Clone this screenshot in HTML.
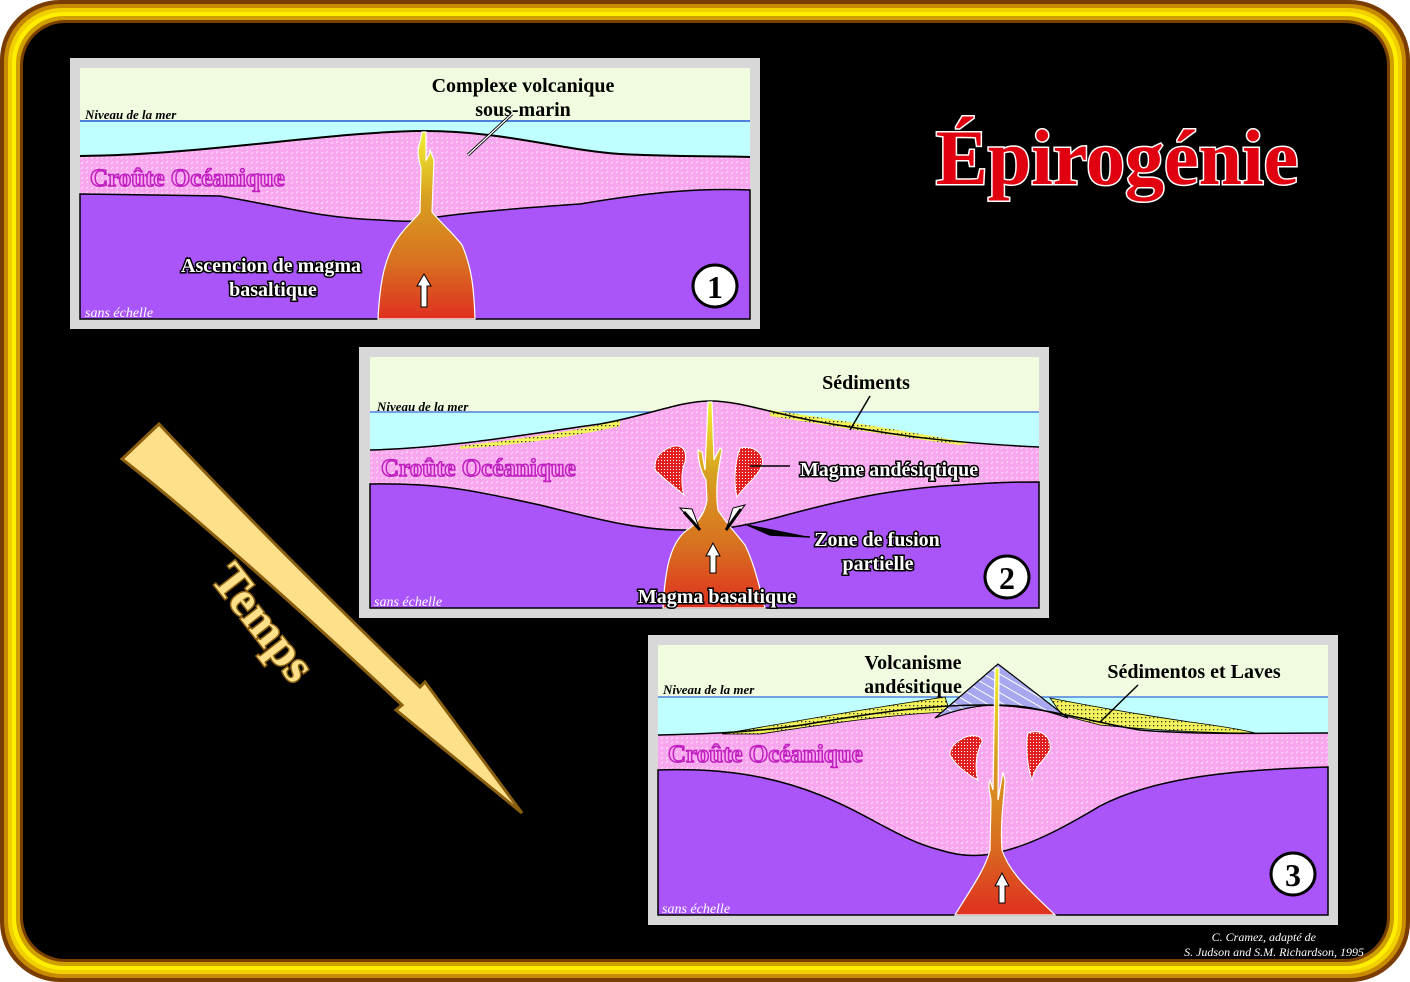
<!DOCTYPE html>
<html><head><meta charset="utf-8"><style>
html,body{margin:0;padding:0;background:#fff}
svg{display:block}
</style></head><body>
<svg width="1410" height="982" viewBox="0 0 1410 982" xmlns="http://www.w3.org/2000/svg">
<defs>
<pattern id="crust" width="10" height="10" patternUnits="userSpaceOnUse">
<rect width="10" height="10" fill="#f8a6ee"/>
<path d="M1 4 l2 -2 M6 9 l2 -2 M6 3 l2 -2 M1 9 l2-2" stroke="#fff" stroke-width="0.8" opacity="0.8"/>
</pattern>
<pattern id="sed" width="4" height="4" patternUnits="userSpaceOnUse">
<rect width="4" height="4" fill="#f2f25a"/><rect x="1" y="1" width="1.3" height="1.3" fill="#333"/>
</pattern>
<pattern id="red" width="3" height="3" patternUnits="userSpaceOnUse">
<rect width="3" height="3" fill="#e02020"/><rect x="1" y="1" width="1" height="1" fill="#fff"/>
</pattern>
<pattern id="cone" width="8" height="8" patternUnits="userSpaceOnUse" patternTransform="rotate(30)">
<rect width="8" height="8" fill="#a8a8f0"/><path d="M0 4 H8" stroke="#fff" stroke-width="1"/>
</pattern>
<linearGradient id="mag" x1="0" y1="0" x2="0" y2="1">
<stop offset="0" stop-color="#f0f030"/><stop offset="0.35" stop-color="#d8a020"/><stop offset="0.7" stop-color="#d87020"/><stop offset="1" stop-color="#e03020"/></linearGradient>
</defs>
<!-- frame -->
<rect x="0" y="0" width="1410" height="982" rx="60" fill="#7a3c00"/>
<rect x="4" y="4" width="1402" height="974" rx="57" fill="#c88a00"/>
<rect x="8" y="8" width="1394" height="966" rx="54" fill="#f0d000"/>
<rect x="12" y="12" width="1386" height="958" rx="51" fill="#ffee00"/>
<rect x="16" y="16" width="1378" height="950" rx="48" fill="#d0a000"/>
<rect x="20" y="20" width="1370" height="942" rx="45" fill="#7a4000"/>
<rect x="23" y="23" width="1364" height="936" rx="42" fill="#000"/>

<!-- Panel 1 -->
<rect x="70" y="58" width="690" height="271" fill="#d8d8d8"/>
<rect x="80" y="68" width="670" height="251" fill="#f0fbe0"/>
<rect x="80" y="121" width="670" height="198" fill="#c0ffff"/>
<path d="M80 156 C200 155 330 132 420 131 C500 130 560 150 620 154 C680 157 720 156 750 157 L750 319 L80 319Z" fill="url(#crust)"/>
<path d="M80 156 C200 155 330 132 420 131 C500 130 560 150 620 154 C680 157 720 156 750 157" fill="none" stroke="#000" stroke-width="2"/>
<line x1="80" y1="121" x2="750" y2="121" stroke="#5080e0" stroke-width="2"/>
<path d="M80 194 L220 196 C280 206 320 218 380 220 C410 222 420 222 430 218 C470 212 520 208 580 204 C650 192 700 188 750 190 L750 319 L80 319Z" fill="#aa55fa" stroke="#000" stroke-width="1.5"/>
<path d="M378 319 C380 280 385 255 400 235 C410 222 416 218 420 212 L421 168 C418 158 417 150 420 142 L422 132 L426 132 L426 160 L429 155 L430 150 L434 160 L432 212 C440 222 452 232 462 245 C472 268 474 290 475 319Z" fill="url(#mag)" stroke="#fff" stroke-width="1.2"/>
<path d="M421 307 V286 H417 L424 274 L431 286 H427 V307Z" fill="#fff" stroke="#000"/>
<text x="523" y="92" font-family="Liberation Serif,serif" font-weight="bold" font-size="20" text-anchor="middle" fill="#000">Complexe volcanique</text>
<text x="523" y="116" font-family="Liberation Serif,serif" font-weight="bold" font-size="20" text-anchor="middle" fill="#000">sous-marin</text>
<path d="M468 155 L512 114" stroke="#000" stroke-width="3"/><path d="M468 155 L512 114" stroke="#fff" stroke-width="1.3"/>
<text x="85" y="119" font-family="Liberation Serif,serif" font-style="italic" font-weight="bold" font-size="13" fill="#000">Niveau de la mer</text>
<text x="90" y="186" font-family="Liberation Serif,serif" font-weight="bold" font-size="25" fill="#f8a6ee" stroke="#c020c0" stroke-width="1.5">Croûte Océanique</text>
<g font-family="Liberation Serif,serif" font-weight="bold" font-size="20" text-anchor="middle" fill="#fff" stroke="#000" stroke-width="3" paint-order="stroke">
<text x="271" y="272">Ascencion de magma</text><text x="273" y="296">basaltique</text></g>
<text x="85" y="317" font-family="Liberation Serif,serif" font-style="italic" font-size="14" fill="#fff">sans échelle</text>
<ellipse cx="715" cy="286" rx="22" ry="21" fill="#fff" stroke="#000" stroke-width="3"/>
<text x="715" y="298" font-family="Liberation Serif,serif" font-weight="bold" font-size="32" text-anchor="middle">1</text>

<!-- Panel 2 -->
<rect x="359" y="347" width="690" height="271" fill="#d8d8d8"/>
<rect x="370" y="357" width="669" height="251" fill="#f0fbe0"/>
<rect x="370" y="412" width="669" height="196" fill="#c0ffff"/>
<line x1="370" y1="412" x2="1039" y2="412" stroke="#5080e0" stroke-width="1.5"/>
<path d="M370 450 C450 448 520 435 600 424 C650 415 680 401 710 401 C740 401 770 413 820 422 C880 432 930 442 1039 447 L1039 608 L370 608Z" fill="url(#crust)"/>
<path d="M460 446 C530 438 580 430 620 420 L620 426 C580 435 530 444 460 449Z" fill="url(#sed)"/>
<path d="M770 410 C840 420 900 430 970 443 L960 445 C900 437 830 426 770 416Z" fill="url(#sed)"/>
<path d="M370 450 C450 448 520 435 600 424 C650 415 680 401 710 401 C740 401 770 413 820 422 C880 432 930 442 1039 447" fill="none" stroke="#000" stroke-width="1.5"/>
<path d="M370 484 C440 483 470 490 540 505 C600 520 640 530 680 530 C720 530 740 528 790 514 C850 498 900 488 960 485 C1000 482 1020 482 1039 482 L1039 608 L370 608Z" fill="#aa55fa" stroke="#000" stroke-width="1.5"/>
<path d="M663 608 C665 570 670 540 690 528 C700 520 705 512 707 500 L706 480 C700 470 698 460 698 450 L702 452 L705 470 L708 402 L712 402 L714 460 L720 448 L722 450 C718 470 715 490 718 510 C725 522 735 532 745 545 C755 565 760 590 765 608Z" fill="url(#mag)" stroke="#fff" stroke-width="1.2"/>
<path d="M665 450 C678 442 688 446 685 462 C680 474 682 488 684 495 C676 488 665 480 655 470 C654 460 658 454 665 450Z" fill="url(#red)" stroke="#fff"/>
<path d="M740 448 C755 445 765 455 762 465 C758 477 745 485 737 497 C734 485 734 465 740 448Z" fill="url(#red)" stroke="#fff"/>
<path d="M710 573 V556 H706 L713 543 L720 556 H716 V573Z" fill="#fff" stroke="#000"/>
<path d="M700 530 L680 508 L692 509Z M726 530 L745 505 L733 508Z" fill="#fff" stroke="#000"/>
<path d="M700 530 L684 512 M726 530 L741 509" stroke="#000" stroke-width="3"/>
<path d="M750 466 L790 466" stroke="#000" stroke-width="1.5"/>
<path d="M745 524 L770 535 L810 537" stroke="#000" stroke-width="1.5"/>
<path d="M850 430 L870 396" stroke="#000" stroke-width="1.5"/>
<text x="377" y="411" font-family="Liberation Serif,serif" font-style="italic" font-weight="bold" font-size="13">Niveau de la mer</text>
<text x="381" y="476" font-family="Liberation Serif,serif" font-weight="bold" font-size="25" fill="#f8a6ee" stroke="#c020c0" stroke-width="1.5">Croûte Océanique</text>
<text x="866" y="389" font-family="Liberation Serif,serif" font-weight="bold" font-size="20" text-anchor="middle">Sédiments</text>
<g font-family="Liberation Serif,serif" font-weight="bold" font-size="20" text-anchor="middle" fill="#fff" stroke="#000" stroke-width="3" paint-order="stroke">
<text x="889" y="476">Magme andésiqtique</text>
<text x="877" y="546">Zone de fusion</text><text x="878" y="570">partielle</text>
<text x="717" y="603">Magma basaltique</text></g>
<text x="374" y="606" font-family="Liberation Serif,serif" font-style="italic" font-size="14" fill="#fff">sans échelle</text>
<ellipse cx="1007" cy="577" rx="22" ry="21" fill="#fff" stroke="#000" stroke-width="3"/>
<text x="1007" y="589" font-family="Liberation Serif,serif" font-weight="bold" font-size="32" text-anchor="middle">2</text>

<!-- Panel 3 -->
<rect x="648" y="635" width="690" height="290" fill="#d8d8d8"/>
<rect x="658" y="645" width="670" height="270" fill="#f0fbe0"/>
<rect x="658" y="697" width="670" height="218" fill="#c0ffff"/>
<line x1="658" y1="697" x2="1328" y2="697" stroke="#5080e0" stroke-width="1.5"/>
<path d="M658 735 C700 734 760 733 820 722 C880 712 930 705 985 705 C1040 705 1090 722 1140 730 C1200 735 1260 733 1328 733 L1328 915 L658 915Z" fill="url(#crust)"/>
<path d="M722 734 C790 722 870 708 945 697 L950 712 C890 714 820 725 760 734Z" fill="url(#sed)" stroke="#000" stroke-width="0.8"/>
<path d="M1050 698 C1100 708 1150 716 1190 722 C1220 726 1240 729 1255 733 C1200 733 1150 730 1100 725 L1062 715Z" fill="url(#sed)" stroke="#000" stroke-width="0.8"/>
<path d="M935 718 L998 664 L1068 718 C1040 708 1020 705 998 705 C975 705 955 710 935 718Z" fill="url(#cone)" stroke="#000" stroke-width="1.2"/>
<path d="M658 735 C700 734 760 733 820 722 C880 712 930 705 985 705 C1040 705 1090 722 1140 730 C1200 735 1260 733 1328 733" fill="none" stroke="#000" stroke-width="1.5"/>
<path d="M658 770 C720 768 770 775 820 795 C870 815 900 840 940 850 C965 858 985 856 1000 852 C1030 845 1060 830 1100 806 C1150 780 1220 770 1328 767 L1328 915 L658 915Z" fill="#aa55fa" stroke="#000" stroke-width="1.5"/>
<path d="M955 915 C970 890 985 870 990 850 L991 800 C989 790 988 785 990 780 L993 790 L995 668 L999 668 L998 800 L1003 772 L1005 780 C1004 800 1000 820 1002 850 C1010 875 1035 895 1055 915Z" fill="url(#mag)" stroke="#fff" stroke-width="1.2"/>
<path d="M960 740 C970 733 983 735 982 742 C975 755 975 770 978 780 C968 775 955 765 950 755 C950 748 955 743 960 740Z" fill="url(#red)" stroke="#fff"/>
<path d="M1028 733 C1042 728 1052 738 1050 750 C1045 760 1035 765 1032 780 C1028 770 1025 745 1028 733Z" fill="url(#red)" stroke="#fff"/>
<path d="M999 903 V886 H995 L1002 873 L1009 886 H1005 V903Z" fill="#fff" stroke="#000"/>
<path d="M1100 722 L1138 685" stroke="#000" stroke-width="1.5"/>
<text x="663" y="694" font-family="Liberation Serif,serif" font-style="italic" font-weight="bold" font-size="13">Niveau de la mer</text>
<text x="668" y="762" font-family="Liberation Serif,serif" font-weight="bold" font-size="25" fill="#f8a6ee" stroke="#c020c0" stroke-width="1.5">Croûte Océanique</text>
<g font-family="Liberation Serif,serif" font-weight="bold" font-size="20" fill="#000">
<text x="913" y="669" text-anchor="middle">Volcanisme</text>
<text x="913" y="693" text-anchor="middle">andésitique</text>
<text x="1194" y="678" text-anchor="middle">Sédimentos et Laves</text></g>
<text x="662" y="913" font-family="Liberation Serif,serif" font-style="italic" font-size="14" fill="#fff">sans échelle</text>
<ellipse cx="1293" cy="874" rx="22" ry="21" fill="#fff" stroke="#000" stroke-width="3"/>
<text x="1293" y="886" font-family="Liberation Serif,serif" font-weight="bold" font-size="32" text-anchor="middle">3</text>

<!-- Title -->
<text x="1117" y="184" font-family="Liberation Serif,serif" font-weight="bold" font-size="78" text-anchor="middle" fill="#e00010" stroke="#fff" stroke-width="3" paint-order="stroke">Épirogénie</text>

<!-- Time arrow -->
<path d="M159 424 L122 459 C200 520 300 610 402 705 L396 710 L522 813 L425 682 L420 687 C330 600 240 510 159 424Z" fill="#ffe08a" stroke="#8a6010" stroke-width="3"/>
<text transform="translate(263,623) rotate(52)" font-family="Liberation Serif,serif" font-weight="bold" font-size="48" text-anchor="middle" fill="#ffe08a" stroke="#8a6010" stroke-width="3" paint-order="stroke" dy="15">Temps</text>

<!-- credits -->
<g font-family="Liberation Serif,serif" font-style="italic" font-size="12" fill="#fff" text-anchor="end">
<text x="1316" y="941">C. Cramez, adapté de</text>
<text x="1364" y="956">S. Judson and S.M. Richardson, 1995</text></g>
</svg>
</body></html>
